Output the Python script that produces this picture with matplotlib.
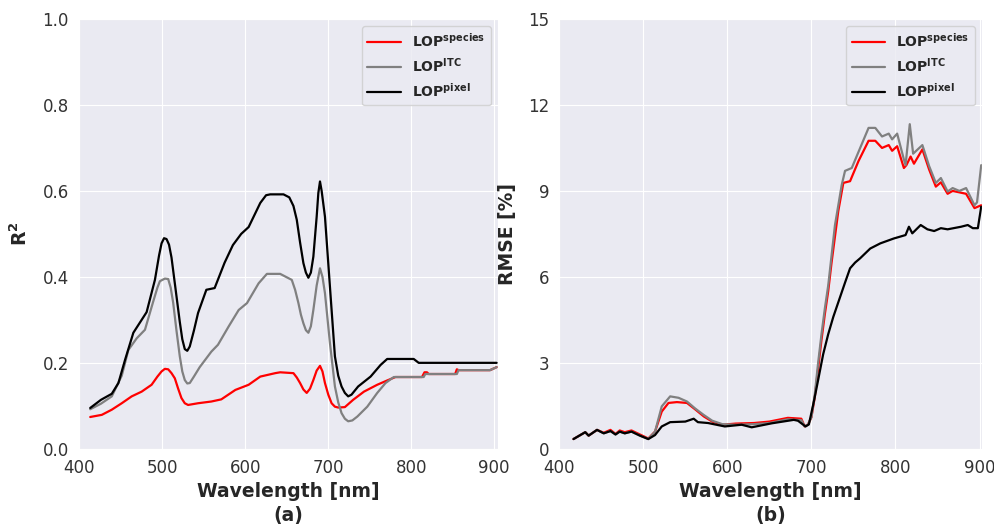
import numpy as np
import matplotlib
matplotlib.use("Agg")
import matplotlib.pyplot as plt
import seaborn as sns

# ---- panel (a): R2 vs wavelength ----
wl_a_species = [413, 427, 439, 451, 463, 475, 487, 494, 499, 503, 507, 511, 515, 519, 523, 527,
                531, 543, 559, 571, 588, 604, 618, 636, 642, 658, 662, 666, 670, 674, 678, 682,
                686, 690, 693, 696, 700, 704, 708, 712, 720, 730, 743, 759, 771, 781, 813, 816,
                819, 821, 853, 855, 857, 895, 903]
r2_species = [0.074, 0.079, 0.091, 0.106, 0.122, 0.133, 0.149, 0.168, 0.180, 0.186, 0.185, 0.176,
              0.164, 0.140, 0.118, 0.106, 0.102, 0.106, 0.110, 0.115, 0.137, 0.149, 0.168, 0.176,
              0.178, 0.176, 0.166, 0.153, 0.138, 0.130, 0.140, 0.160, 0.182, 0.193, 0.180, 0.153,
              0.126, 0.106, 0.098, 0.096, 0.097, 0.114, 0.133, 0.149, 0.159, 0.167, 0.167, 0.178,
              0.178, 0.174, 0.174, 0.185, 0.183, 0.183, 0.190]

wl_a_itc = [413, 426, 439, 451, 459, 469, 479, 489, 494, 497, 503, 507, 510, 513, 517, 521, 524,
            527, 530, 533, 538, 545, 559, 567, 580, 592, 602, 616, 626, 642, 656, 660, 664, 667,
            670, 673, 676, 679, 682, 686, 690, 693, 696, 702, 708, 712, 716, 720, 724, 729, 735,
            747, 759, 769, 779, 815, 817, 855, 857, 895, 903]
r2_itc = [0.092, 0.105, 0.122, 0.170, 0.230, 0.257, 0.277, 0.343, 0.375, 0.390, 0.396, 0.395,
          0.375, 0.340, 0.275, 0.215, 0.180, 0.160, 0.152, 0.153, 0.168, 0.190, 0.226, 0.242,
          0.285, 0.323, 0.339, 0.385, 0.407, 0.407, 0.393, 0.370, 0.339, 0.312, 0.292, 0.276,
          0.270, 0.285, 0.323, 0.380, 0.420, 0.400, 0.362, 0.246, 0.145, 0.108, 0.083, 0.070,
          0.064, 0.066, 0.075, 0.098, 0.130, 0.153, 0.167, 0.167, 0.174, 0.174, 0.183, 0.183,
          0.190]

wl_a_pixel = [413, 426, 439, 447, 455, 465, 481, 491, 496, 499, 502, 505, 508, 511, 514, 518,
              521, 524, 527, 530, 533, 538, 543, 553, 563, 575, 585, 595, 604, 618, 625, 630,
              646, 653, 658, 662, 666, 670, 673, 676, 679, 682, 686, 688, 690, 692, 696, 702,
              708, 712, 716, 720, 724, 728, 736, 751, 763, 771, 803, 809, 903]
r2_pixel = [0.095, 0.114, 0.128, 0.153, 0.207, 0.270, 0.318, 0.393, 0.450, 0.478, 0.490, 0.488,
            0.475, 0.445, 0.400, 0.340, 0.295, 0.255, 0.232, 0.228, 0.238, 0.275, 0.316, 0.370,
            0.374, 0.433, 0.474, 0.500, 0.516, 0.572, 0.590, 0.592, 0.592, 0.585, 0.565, 0.533,
            0.480, 0.432, 0.410, 0.398, 0.410, 0.447, 0.540, 0.595, 0.622, 0.600, 0.540, 0.377,
            0.215, 0.170, 0.145, 0.130, 0.122, 0.126, 0.145, 0.168, 0.195, 0.209, 0.209, 0.200,
            0.200]

# ---- panel (b): RMSE vs wavelength ----
wl_b_species = [417, 431, 435, 445, 453, 461, 467, 472, 478, 486, 496, 506, 514, 522, 530, 540,
                552, 562, 572, 582, 594, 610, 632, 650, 672, 688, 692, 696, 700, 704, 708, 712,
                716, 720, 724, 728, 732, 738, 746, 756, 768, 776, 784, 792, 796, 802, 810, 813,
                818, 822, 832, 840, 848, 854, 862, 868, 884, 894, 898, 902]
rmse_species = [0.34, 0.58, 0.46, 0.66, 0.56, 0.66, 0.52, 0.64, 0.58, 0.64, 0.50, 0.36, 0.60,
                1.30, 1.60, 1.63, 1.60, 1.37, 1.13, 0.95, 0.84, 0.88, 0.90, 0.95, 1.08, 1.05,
                0.78, 0.85, 1.10, 1.80, 2.80, 3.80, 4.70, 5.50, 6.50, 7.40, 8.30, 9.28, 9.34,
                10.04, 10.75, 10.75, 10.50, 10.60, 10.40, 10.56, 9.80, 9.90, 10.20, 9.95, 10.45,
                9.75, 9.15, 9.30, 8.90, 9.00, 8.90, 8.40, 8.45, 8.50]

wl_b_itc = [417, 431, 435, 445, 453, 461, 467, 472, 478, 486, 496, 506, 514, 522, 532, 542, 552,
            562, 572, 582, 594, 610, 632, 650, 672, 688, 692, 696, 700, 704, 708, 712, 716, 720,
            728, 736, 740, 748, 758, 768, 776, 784, 792, 796, 802, 810, 812, 817, 821, 832, 840,
            848, 854, 862, 868, 876, 884, 894, 897, 902]
rmse_itc = [0.34, 0.58, 0.46, 0.66, 0.54, 0.62, 0.50, 0.60, 0.54, 0.60, 0.46, 0.34, 0.60, 1.48,
            1.83, 1.78, 1.65, 1.40, 1.18, 0.98, 0.86, 0.84, 0.86, 0.90, 1.03, 1.00, 0.78, 0.85,
            1.10, 1.90, 3.00, 4.00, 4.90, 5.70, 7.80, 9.20, 9.70, 9.80, 10.50, 11.20, 11.20,
            10.90, 11.00, 10.80, 11.00, 10.10, 9.90, 11.33, 10.30, 10.60, 9.87, 9.28, 9.45,
            8.98, 9.10, 9.00, 9.10, 8.50, 8.60, 9.90]

wl_b_pixel = [417, 431, 435, 445, 453, 461, 467, 472, 478, 486, 496, 506, 514, 522, 532, 550,
              560, 565, 577, 597, 617, 629, 653, 679, 684, 693, 697, 703, 708, 714, 720, 726,
              733, 740, 746, 752, 758, 770, 782, 798, 812, 816, 820, 830, 838, 846, 854, 862,
              878, 886, 892, 898, 902]
rmse_pixel = [0.34, 0.58, 0.46, 0.66, 0.54, 0.62, 0.50, 0.60, 0.54, 0.60, 0.46, 0.34, 0.48,
              0.78, 0.93, 0.95, 1.05, 0.93, 0.90, 0.78, 0.84, 0.75, 0.89, 1.01, 0.98, 0.78,
              0.85, 1.66, 2.40, 3.30, 4.00, 4.60, 5.20, 5.80, 6.30, 6.50, 6.65, 6.99, 7.17,
              7.34, 7.46, 7.75, 7.52, 7.81, 7.66, 7.60, 7.70, 7.66, 7.75, 7.81, 7.70, 7.70, 8.45]

labels = [r'LOP$^{\mathbf{species}}$', r'LOP$^{\mathbf{ITC}}$', r'LOP$^{\mathbf{pixel}}$']
colors = ['red', 'gray', 'black']

sns.set_style("darkgrid")

fig = plt.figure(figsize=(9.95, 5.28), dpi=100)
ax1 = fig.add_axes([0.079, 0.150, 0.421, 0.814])
ax2 = fig.add_axes([0.562, 0.150, 0.425, 0.814])

ax1.plot(wl_a_species, r2_species, color=colors[0], lw=1.6, label=labels[0])
ax1.plot(wl_a_itc, r2_itc, color=colors[1], lw=1.6, label=labels[1])
ax1.plot(wl_a_pixel, r2_pixel, color=colors[2], lw=1.6, label=labels[2])

ax2.plot(wl_b_species, rmse_species, color=colors[0], lw=1.6, label=labels[0])
ax2.plot(wl_b_itc, rmse_itc, color=colors[1], lw=1.6, label=labels[1])
ax2.plot(wl_b_pixel, rmse_pixel, color=colors[2], lw=1.6, label=labels[2])

ax1.set_xlim(399, 904)
ax1.set_ylim(0, 1)
ax1.set_yticks(np.arange(0, 1.01, 0.2))
ax1.set_yticklabels(['0.0', '0.2', '0.4', '0.6', '0.8', '1.0'])
ax1.set_ylabel(r'$\mathbf{R^2}$', fontsize=13.5, labelpad=8)
ax1.set_xlabel('Wavelength [nm]\n(a)', fontsize=13.5, fontweight='bold', linespacing=1.35)

ax2.set_xlim(400, 903)
ax2.set_ylim(0, 15)
ax2.set_yticks([0, 3, 6, 9, 12, 15])
ax2.set_ylabel('RMSE [%]', fontsize=13.5, fontweight='bold', labelpad=8)
ax2.set_xlabel('Wavelength [nm]\n(b)', fontsize=13.5, fontweight='bold', linespacing=1.35)

for ax in (ax1, ax2):
    ax.set_xticks([400, 500, 600, 700, 800, 900])
    ax.tick_params(labelsize=12, labelcolor='#333333')
    ax.legend(loc='upper right', prop={'weight': 'bold', 'size': 10}, handlelength=2.4)

fig.savefig("out.png", dpi=100)
